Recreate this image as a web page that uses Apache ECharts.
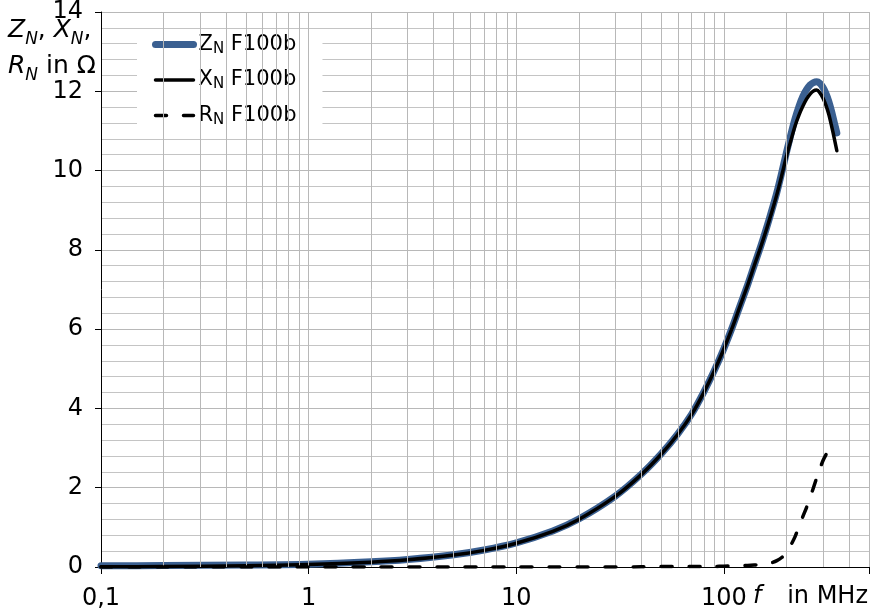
<!DOCTYPE html>
<html><head><meta charset="utf-8">
<script src="https://cdn.jsdelivr.net/npm/echarts@6/dist/echarts.min.js"></script>
<style>html,body{margin:0;padding:0;background:#fff}#c{width:872px;height:614px}</style>
</head><body><div id="c"></div>
<script>
const freqMHz = [0.1, 0.2, 0.5, 1, 2, 3, 5, 7, 10, 15, 20, 30, 40, 50, 60, 70, 80, 90, 100, 110, 120, 130, 140, 150, 160, 170, 180, 190, 200, 210, 220, 230, 240, 250, 260, 270, 280, 290, 300, 310, 320, 330, 340, 350];
const zN = [0.03, 0.035, 0.05, 0.07, 0.13, 0.19, 0.31, 0.43, 0.61, 0.91, 1.21, 1.79, 2.34, 2.86, 3.36, 3.86, 4.41, 4.96, 5.51, 6.06, 6.61, 7.11, 7.61, 8.07, 8.53, 8.99, 9.45, 9.95, 10.45, 10.9, 11.3, 11.62, 11.87, 12.04, 12.16, 12.22, 12.24, 12.2, 12.1, 11.95, 11.75, 11.5, 11.22, 10.95];
const xN = [0.006, 0.012, 0.03, 0.06, 0.12, 0.18, 0.3, 0.42, 0.6, 0.9, 1.2, 1.78, 2.33, 2.85, 3.35, 3.85, 4.4, 4.95, 5.5, 6.05, 6.6, 7.1, 7.6, 8.05, 8.5, 8.95, 9.4, 9.88, 10.35, 10.75, 11.12, 11.4, 11.62, 11.8, 11.93, 12.01, 12.03, 11.96, 11.83, 11.65, 11.42, 11.13, 10.82, 10.5];
const rN = [0, 0, 0, 0, 0, 0, 0, 0, 0, 0, 0, 0, 0.005, 0.01, 0.01, 0.01, 0.015, 0.015, 0.02, 0.025, 0.03, 0.04, 0.05, 0.06, 0.08, 0.11, 0.16, 0.24, 0.36, 0.55, 0.76, 1.02, 1.27, 1.5, 1.75, 2.0, 2.25, 2.48, 2.68, 2.83, 2.94, 3.03, 3.1, 3.14];
const seriesNames = ['ZN F100b', 'XN F100b', 'RN F100b'];
const legendLabels = ['{m|Z}{s|N}{m| F100b}', '{m|X}{s|N}{m| F100b}', '{m|R}{s|N}{m| F100b}'];
const xTickValues = [0.1, 1, 10, 100];
const xTickLabels = ['0,1', '1', '10', '100'];
const xGridValues = [0.2, 0.3, 0.4, 0.5, 0.6, 0.7, 0.8, 0.9, 1, 2, 3, 4, 5, 6, 7, 8, 9, 10, 20, 30, 40, 50, 60, 70, 80, 90, 100, 200, 300, 400, 500];
const yMin = 0, yMax = 14, yStep = 2;

const FONT = 'DejaVu Sans';
const BLUE = '#3b6091';
const pairs = arr => freqMHz.map((f, i) => [f, arr[i]]);
const styles = [
  {color: BLUE, width: 7, type: 'solid'},
  {color: '#000', width: 3.5, type: 'solid'},
  {color: '#000', width: 3.5, type: [11, 17]}
];
const chart = echarts.init(document.getElementById('c'), null, {renderer: 'canvas'});
chart.setOption({
  animation: false,
  backgroundColor: '#fff',
  grid: {left: 101, right: 2, top: 12, bottom: 47, containLabel: false},
  xAxis: {
    type: 'log', logBase: 10, min: 0.1, max: 500,
    axisLine: {lineStyle: {color: '#000', width: 1}},
    axisTick: {length: 7, lineStyle: {color: '#000'}},
    axisLabel: {
      margin: 20, fontSize: 24, fontFamily: FONT, color: '#000',
      formatter: v => {
        for (let i = 0; i < xTickValues.length; i++) {
          if (Math.abs(Math.log10(v) - Math.log10(xTickValues[i])) < 1e-6) return xTickLabels[i];
        }
        return '';
      }
    },
    splitLine: {show: false}
  },
  yAxis: {
    type: 'value', min: yMin, max: yMax, interval: yStep,
    axisLine: {show: true, lineStyle: {color: '#000', width: 1}},
    axisTick: {show: true, length: 6, lineStyle: {color: '#000'}},
    axisLabel: {margin: 18, fontSize: 24, fontFamily: FONT, color: '#000'},
    splitLine: {show: true, lineStyle: {color: '#b8b8b8', width: 1}},
    minorTick: {show: false, splitNumber: 5},
    minorSplitLine: {show: true, lineStyle: {color: '#c4c4c4', width: 1}}
  },
  legend: {
    data: seriesNames.map((n, i) => ({
      name: n,
      itemStyle: {opacity: 0},
      lineStyle: {color: styles[i].color, width: styles[i].width, type: styles[i].type, cap: 'round'}
    })),
    orient: 'vertical', left: 137, top: 30,
    itemWidth: 38, itemHeight: 14, itemGap: 13,
    padding: [4, 26, 6, 15], backgroundColor: '#fff', selectedMode: false,
    itemStyle: {opacity: 0},
    formatter: name => legendLabels[seriesNames.indexOf(name)],
    textStyle: {
      fontFamily: FONT, fontSize: 21, color: '#000',
      rich: {
        m: {fontFamily: FONT, fontSize: 21, lineHeight: 24, color: '#000'},
        s: {fontFamily: FONT, fontSize: 15, lineHeight: 12, verticalAlign: 'bottom', color: '#000'}
      }
    }
  },
  graphic: [
    {
      type: 'text', left: 8, top: 18, z: 10,
      style: {
        text: '{i|Z}{si|N}{n|, }{i|X}{si|N}{n|,}\n{i|R}{si|N}{n| in Ω}',
        fill: '#000',
        rich: {
          i: {fontFamily: FONT, fontSize: 25, fontStyle: 'italic', lineHeight: 36, fill: '#000'},
          si: {fontFamily: FONT, fontSize: 17, fontStyle: 'italic', lineHeight: 20, verticalAlign: 'bottom', fill: '#000'},
          n: {fontFamily: FONT, fontSize: 25, lineHeight: 36, fill: '#000'}
        }
      }
    },
    {
      type: 'text', x: 753, y: 597, z: 10,
      style: {
        text: 'f', align: 'left', verticalAlign: 'middle', fill: '#000',
        fontFamily: FONT, fontSize: 24, fontStyle: 'italic'
      }
    },
    {
      type: 'text', x: 868, y: 597, z: 10,
      style: {
        text: 'in MHz', align: 'right', verticalAlign: 'middle', fill: '#000',
        fontFamily: FONT, fontSize: 24
      }
    }
  ],
  series: [
    {
      name: 'gridlines', type: 'line', data: [], z: 1, silent: true,
      markLine: {
        silent: true, symbol: ['none', 'none'], animation: false,
        label: {show: false},
        lineStyle: {color: '#b8b8b8', width: 1, type: 'solid'},
        emphasis: {disabled: true},
        data: xGridValues.map(v => ({xAxis: v}))
      }
    },
    ...seriesNames.map((n, i) => ({
      name: n, type: 'line', data: pairs([zN, xN, rN][i]), symbol: 'none', showSymbol: false,
      smooth: 0.3, z: 3 + i,
      lineStyle: {color: styles[i].color, width: styles[i].width, type: styles[i].type, cap: 'round', join: 'round'},
      itemStyle: {color: styles[i].color}
    }))
  ]
});
</script></body></html>
